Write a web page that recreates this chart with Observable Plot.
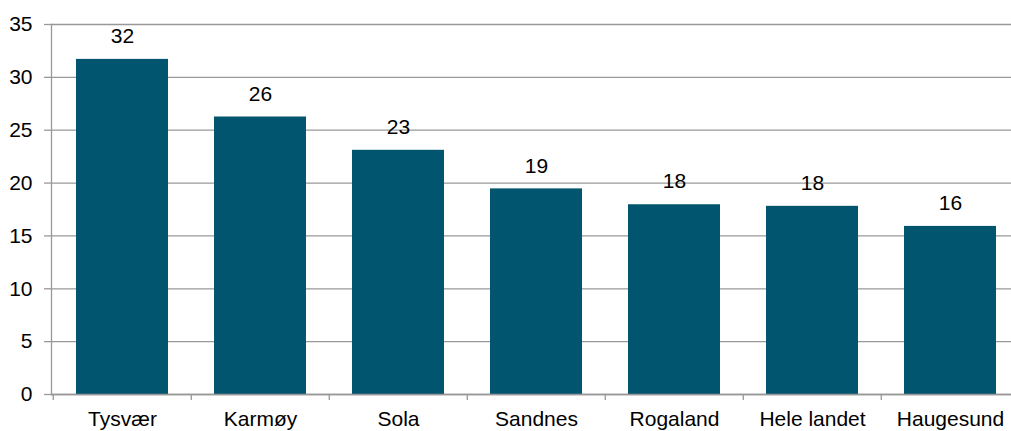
<!DOCTYPE html>
<html>
<head>
<meta charset="utf-8">
<script src="https://cdn.jsdelivr.net/npm/d3@7"></script>
<script src="https://cdn.jsdelivr.net/npm/@observablehq/plot@0.6"></script>
<style>
  html, body { margin: 0; padding: 0; background: white; overflow: hidden; }
  #chart { width: 1011px; height: 431px; overflow: hidden; }
</style>
</head>
<body>
<div id="chart"></div>
<script>
const categories = ["Tysvær", "Karmøy", "Sola", "Sandnes", "Rogaland", "Hele landet", "Haugesund"];
const values = [31.7, 26.25, 23.1, 19.45, 17.95, 17.8, 15.9];
const yTicks = [0, 5, 10, 15, 20, 25, 30, 35];

const data = categories.map((c, i) => ({cat: c, value: values[i]}));

const left = 51, right = 1020;
const step = (right - left) / categories.length;
const font = "'Liberation Sans', Arial, sans-serif";
const grey = "#999999";

const chart = Plot.plot({
  width: 1011,
  height: 431,
  marginLeft: left,
  marginRight: 0,
  marginTop: 24,
  marginBottom: 37,
  style: {fontFamily: font, fontSize: "21px", color: "#000", background: "white"},
  x: {domain: categories, range: [left, right], paddingInner: 0.336, paddingOuter: 0.168},
  y: {domain: [0, 35]},
  marks: [
    Plot.gridY(yTicks, {stroke: grey, strokeOpacity: 1, strokeWidth: 1.3}),
    Plot.barY(data, {x: "cat", y: "value", fill: "#02556e"}),
    Plot.ruleY([0], {stroke: grey, strokeWidth: 1.3}),
    Plot.frame({anchor: "left", stroke: grey, strokeWidth: 1.3}),
    Plot.axisY(yTicks, {tickSize: 7, tickPadding: 12, stroke: grey, strokeWidth: 1.3, fontSize: 21, label: null}),
    Plot.axisX({tickSize: 0, tickPadding: 17, label: null, fontSize: 21}),
    Plot.axisX({tickSize: 6, text: null, dx: -step / 2, stroke: grey, strokeWidth: 1.3, label: null}),
    Plot.text(data, {x: "cat", y: "value", text: d => d3.format(".0f")(d.value), dy: -23, fontSize: 21, fill: "#000"})
  ]
});
document.getElementById("chart").appendChild(chart);
</script>
</body>
</html>
